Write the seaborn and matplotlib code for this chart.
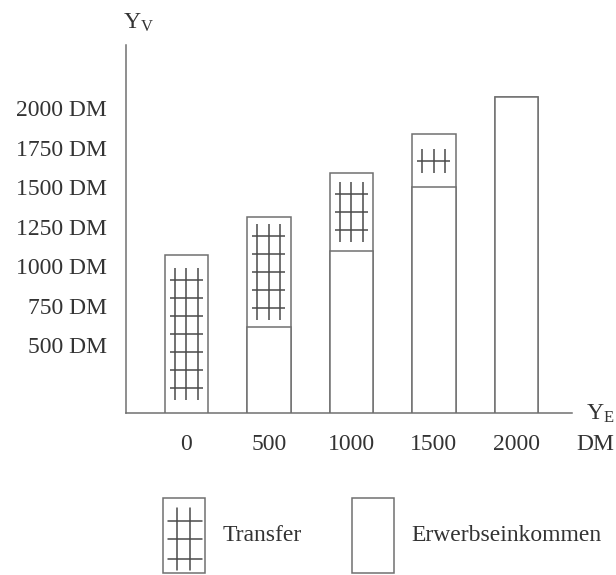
import matplotlib
matplotlib.use("Agg")
import matplotlib.pyplot as plt
import seaborn as sns
import numpy as np
import pandas as pd
from matplotlib.patches import Patch, Rectangle
from matplotlib.lines import Line2D
from matplotlib.legend_handler import HandlerPatch

# values (DM)
categories = ["0", "500", "1000", "1500", "2000"]
erwerb = [0, 615, 1095, 1500, 2070]
transfer = [1070, 695, 495, 335, 0]
ytick_values = [500, 750, 1000, 1250, 1500, 1750, 2000]
ytick_labels = [f"{v} DM" for v in ytick_values]
legend_labels = ["Transfer", "Erwerbseinkommen"]

EDGE = "#707070"
GRID = "#4a4a4a"
TEXT = "#333333"
FS = 17


class HandlerGrid(HandlerPatch):
    """Legend box with the small inset grid used for the transfer part."""

    def create_artists(self, legend, orig_handle, xdescent, ydescent,
                       width, height, fontsize, trans):
        x0, y0 = -xdescent, -ydescent
        out = [Rectangle((x0, y0), width, height, facecolor="white",
                         edgecolor=EDGE, lw=1.1, transform=trans)]
        for fx in (0.33, 0.64):
            out.append(Line2D([x0 + fx * width] * 2,
                              [y0 + 0.04 * height, y0 + 0.87 * height],
                              color=GRID, lw=1.1, transform=trans))
        for fy in (0.19, 0.45, 0.69):
            out.append(Line2D([x0 + 0.12 * width, x0 + 0.93 * width],
                              [y0 + fy * height] * 2,
                              color=GRID, lw=1.1, transform=trans))
        return out


sns.set_theme(style="white")
plt.rcParams["font.family"] = ["Liberation Serif", "DejaVu Serif"]

df = pd.DataFrame({"Einkommen": categories, "Erwerb": erwerb, "Transfer": transfer})
df["Gesamt"] = df["Erwerb"] + df["Transfer"]

fig = plt.figure(figsize=(6.16, 5.75), dpi=100)
ax = fig.add_axes([0.2045, 0.2817, 0.724, 0.64])

bar_w = 0.53
y_bottom, y_top = 70, 2400

# total bars first, then income bars drawn over them -> split line
sns.barplot(data=df, x="Einkommen", y="Gesamt", color="white", edgecolor=EDGE,
            linewidth=1.1, width=bar_w, saturation=1, errorbar=None, ax=ax)
sns.barplot(data=df, x="Einkommen", y="Erwerb", color="white", edgecolor=EDGE,
            linewidth=1.1, width=bar_w, saturation=1, errorbar=None, ax=ax)

# grid pattern inside the transfer part of each bar
step = 114
for i, (lo, t) in enumerate(zip(erwerb, transfer)):
    if t <= 0:
        continue
    lo_vis = max(lo, y_bottom)
    hi = lo + t
    h = hi - lo_vis
    n = max(1, int((h - 228) // step) + 1)
    mid = (lo_vis + hi) / 2
    ys = mid + (np.arange(n) - (n - 1) / 2) * step
    ax.hlines(ys, i - 0.2, i + 0.2, color=GRID, lw=1.1)
    ax.vlines(i + np.array([-0.14, 0.0, 0.14]), ys[0] - 76, ys[-1] + 76,
              color=GRID, lw=1.1)

ax.set_xlim(-0.733, 4.673)
ax.set_ylim(y_bottom, y_top)
ax.set_xlabel("")
ax.set_ylabel("")
ax.set_xticks(range(len(categories)), categories)
ax.set_yticks(ytick_values, ytick_labels)
ax.tick_params(axis="x", length=0, pad=15, labelsize=FS, labelcolor=TEXT)
ax.tick_params(axis="y", length=0, pad=14, labelsize=FS, labelcolor=TEXT)

for s in ["top", "right"]:
    ax.spines[s].set_visible(False)
for s in ["left", "bottom"]:
    ax.spines[s].set_color(EDGE)
    ax.spines[s].set_linewidth(1.1)

ax.annotate(r"$\mathregular{Y_V}$", xy=(0, 1), xycoords="axes fraction",
            xytext=(-2, 12), textcoords="offset points", ha="left",
            va="baseline", fontsize=FS, color=TEXT)
fig.text(614 / 616, 1 - 420 / 575, r"$\mathregular{Y_E}$", ha="right",
         va="baseline", fontsize=FS, color=TEXT)
fig.text(614 / 616, 1 - 445 / 575, "DM", ha="right", va="center",
         fontsize=FS, color=TEXT)

handles = [Patch(facecolor="white", edgecolor=EDGE, linewidth=1.1),
           Patch(facecolor="white", edgecolor=EDGE, linewidth=1.1)]
leg = fig.legend(handles, legend_labels, loc="upper left",
                 bbox_to_anchor=(163 / 616, 1 - 498 / 575), ncol=2,
                 frameon=False, borderpad=0, borderaxespad=0,
                 handlelength=1.78, handleheight=4.5, handletextpad=0.75,
                 columnspacing=2.1, fontsize=FS,
                 handler_map={handles[0]: HandlerGrid()})
for txt in leg.get_texts():
    txt.set_color(TEXT)

fig.savefig("out.png", dpi=100, facecolor="white")
